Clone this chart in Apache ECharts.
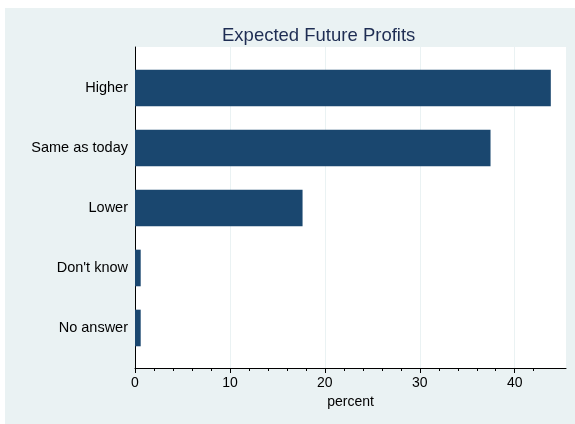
<!DOCTYPE html>
<html>
<head>
<meta charset="utf-8">
<script src="https://cdn.jsdelivr.net/npm/echarts@6/dist/echarts.min.js"></script>
<style>
  html, body { margin: 0; padding: 0; background: #fff; }
  #profitsChart {
    position: absolute;
    left: 5px;
    top: 8px;
    width: 570px;
    height: 416px;
  }
</style>
</head>
<body>
<div id="profitsChart"></div>
<script>
  // answers, top to bottom
  var categories = ['Higher', 'Same as today', 'Lower', "Don't know", 'No answer']
  var percents = [43.8, 37.45, 17.65, 0.6, 0.6]
  var xTickValues = [0, 10, 20, 30, 40]
  var xMinorTickValues = [2, 4, 6, 8, 12, 14, 16, 18, 22, 24, 26, 28, 32, 34, 36, 38, 42]

  var font = "'Liberation Sans', Arial, Helvetica, sans-serif"
  var barColor = '#1a476f'

  var chart = echarts.init(document.getElementById('profitsChart'))
  chart.setOption({
    backgroundColor: '#eaf2f3',
    animation: false,
    title: {
      text: 'Expected Future Profits',
      left: 212,
      top: 13,
      textStyle: {
        color: '#1e2d53',
        fontFamily: font,
        fontSize: 18.5,
        fontWeight: 'normal'
      }
    },
    grid: {
      left: 130,
      top: 39,
      right: 9,
      bottom: 56,
      show: true,
      backgroundColor: '#fff',
      borderWidth: 0
    },
    xAxis: [{
      type: 'value',
      min: 0,
      max: 45.4,
      interval: 10,
      name: 'percent',
      nameLocation: 'middle',
      nameGap: 24,
      nameTextStyle: { color: '#000', fontFamily: font, fontSize: 14 },
      axisLine: { show: true, onZero: false, lineStyle: { color: '#000', width: 1 } },
      axisTick: { show: true, length: 5, customValues: xTickValues, lineStyle: { color: '#000' } },
      axisLabel: { customValues: xTickValues, margin: 8, color: '#000', fontFamily: font, fontSize: 14 },
      splitLine: { show: true, lineStyle: { color: '#eaf2f3', width: 1 } }
    }, {
      // minor ticks, every 2 percent
      type: 'value',
      position: 'bottom',
      min: 0,
      max: 45.4,
      interval: 10,
      axisLine: { show: false, onZero: false },
      axisTick: { show: true, length: 3, customValues: xMinorTickValues, lineStyle: { color: '#000' } },
      axisLabel: { show: false },
      splitLine: { show: false }
    }],
    yAxis: {
      type: 'value',
      inverse: true,
      min: -0.683,
      max: 4.667,
      axisLine: { show: true, onZero: false, lineStyle: { color: '#000', width: 1 } },
      axisTick: { show: false },
      axisLabel: {
        customValues: [0, 1, 2, 3, 4],
        margin: 7,
        color: '#000',
        fontFamily: font,
        fontSize: 14.5,
        formatter: function (v) {
          return categories[Math.round(v)]
        }
      },
      splitLine: { show: false }
    },
    series: [{
      type: 'custom',
      xAxisIndex: 0,
      yAxisIndex: 0,
      encode: { x: 0, y: 1 },
      data: percents.map(function (p, i) { return [p, i] }),
      renderItem: function (params, api) {
        var start = api.coord([0, api.value(1)])
        var end = api.coord([api.value(0), api.value(1)])
        var h = api.size([0, 0.61])[1]
        return {
          type: 'rect',
          shape: { x: start[0], y: start[1] - h / 2, width: end[0] - start[0], height: h },
          style: { fill: barColor }
        }
      }
    }]
  })
</script>
</body>
</html>
